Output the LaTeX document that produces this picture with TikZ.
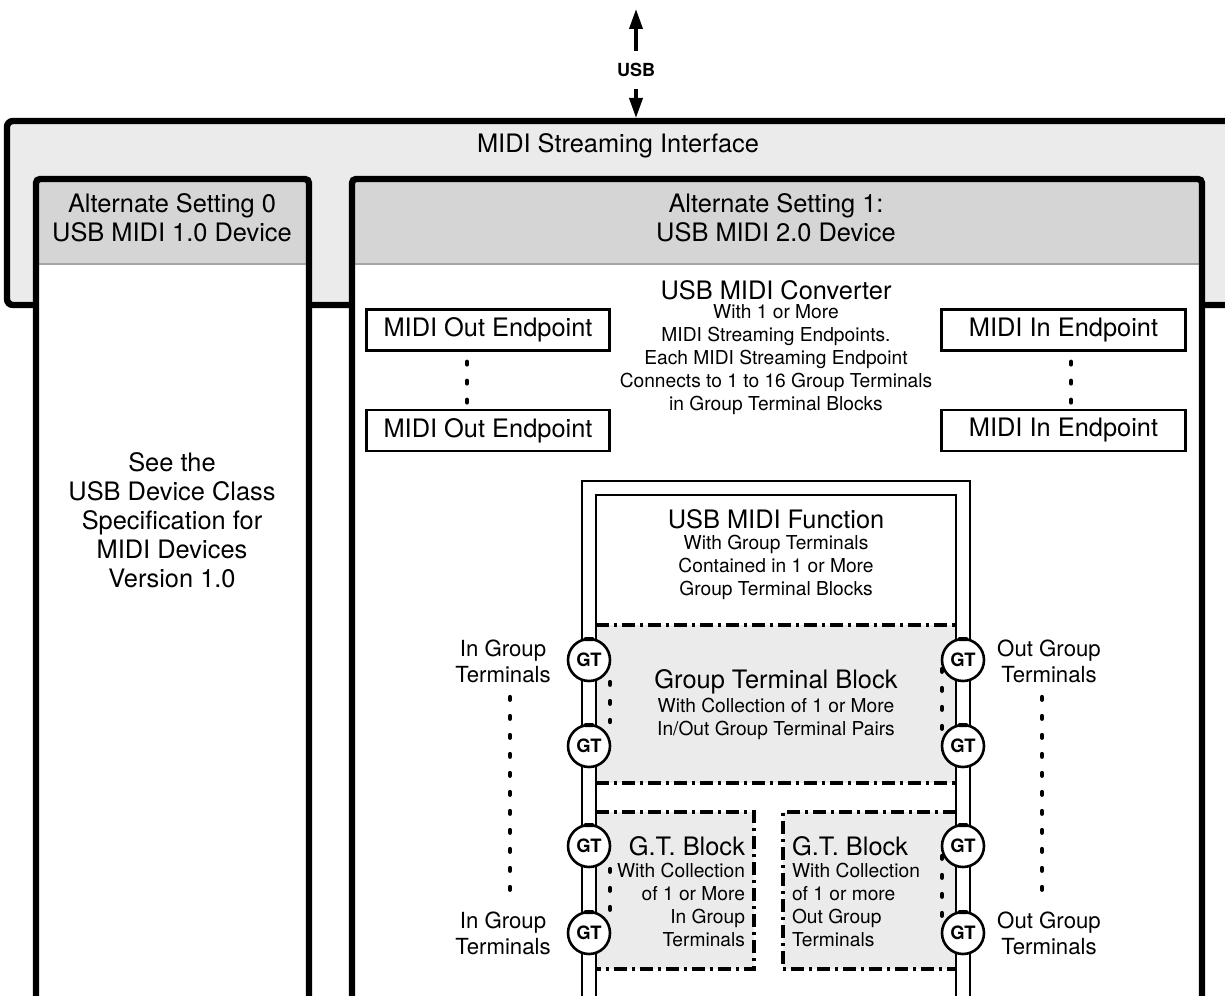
\documentclass[tikz,border=0pt]{standalone}
\usepackage{fontspec}
\setmainfont{TeX Gyre Heros}
\usetikzlibrary{arrows.meta}

\definecolor{ifacefill}{RGB}{235,235,235}
\definecolor{headfill}{RGB}{213,213,213}
\definecolor{headrule}{RGB}{165,165,165}
\definecolor{blockfill}{RGB}{235,235,235}

\newcommand\lgtxt{\fontsize{12.7}{14.5}\selectfont}
\newcommand\smtxt{\fontsize{9.6}{11.5}\selectfont}
\newcommand\lbltxt{\fontsize{11.1}{13}\selectfont}

\tikzset{
  txt/.style={inner sep=0pt, outer sep=0pt},
  heavy/.style={line width=3.2pt},
  panelrule/.style={draw=headrule, line width=1pt},
  frame/.style={line width=1.4pt},
  dashdot/.style={line width=1.6pt, dash pattern=on 6.5pt off 2.5pt on 1.5pt off 2.5pt},
  dots/.style={line width=2.1pt, line cap=round, dash pattern=on 1.4pt off 8.1pt},
  endpoint/.style={draw, line width=1.3pt, minimum width=121.75pt, minimum height=20.5pt,
                   inner sep=0pt, outer sep=0pt, font=\lgtxt},
  gt/.style={circle, draw, fill=white, line width=1.3pt, minimum size=21pt, inner sep=0pt,
             outer sep=0pt, font=\bfseries\fontsize{9.2}{10}\selectfont},
  usbarrow/.style={line width=1.8pt, -{Triangle[length=10pt,width=6.5pt]}}
}

\begin{document}
\begin{tikzpicture}[x=0.5pt,y=-0.5pt]
\useasboundingbox (0,0) rectangle (1225,995);

\begin{scope}
  \clip (0,0) rectangle (1225,995);
  % streaming interface frame
  \draw[heavy, fill=ifacefill, rounded corners=3pt] (7,121) rectangle (1290,305);
  % the two alternate setting panels
  \foreach \l/\r in {36/309, 352/1202}{
    \fill[white] (\l,179) rectangle (\r,1050);
    \fill[headfill] (\l,179) rectangle (\r,264);
    \draw[panelrule] (\l,264) -- (\r,264);
    \draw[heavy, rounded corners=2pt] (\l,1050) -- (\l,179) -- (\r,179) -- (\r,1050);
  }
  % group terminal blocks
  \fill[blockfill] (596,625) rectangle (956,783);
  \draw[dashdot] (596,625) -- (956,625);
  \draw[dashdot] (596,783) -- (956,783);
  \fill[blockfill] (596,812) rectangle (754,969);
  \draw[dashdot] (596,812) -- (754,812) -- (754,969) -- (596,969);
  \fill[blockfill] (783,812) rectangle (956,969);
  \draw[dashdot] (956,812) -- (783,812) -- (783,969) -- (956,969);
  % USB MIDI function double frame
  \draw[frame] (582,1050) -- (582,481) -- (970,481) -- (970,1050);
  \draw[frame] (596,1050) -- (596,495) -- (956,495) -- (956,1050);
\end{scope}

% USB connection
\node[txt, font=\bfseries\fontsize{9}{10}\selectfont] (usb) at (636,70) {USB};
\coordinate (usbout) at (636,9);
\coordinate (usbin) at (636,118);
\draw[usbarrow] ([yshift=6pt]usb.north) -- (usbout);
\draw[usbarrow] ([yshift=-6pt]usb.south) -- (usbin);

% headings
\node[txt, font=\lgtxt] (iface) at (618,146) {MIDI Streaming Interface};
\node[txt, font=\lgtxt, align=center] (alt0) at (172,217.5) {Alternate Setting 0\\USB MIDI 1.0 Device};
\node[txt, font=\lgtxt, align=center] (alt1) at (776,217.5) {Alternate Setting 1:\\USB MIDI 2.0 Device};
\node[txt, font=\lgtxt, align=center] (spec) at (172,520)
  {See the\\USB Device Class\\Specification for\\MIDI Devices\\Version 1.0};

% converter
\node[txt, font=\lgtxt] (conv) at (776,290) {USB MIDI Converter};
\node[txt, font=\smtxt, align=center] (convtxt) at (776,360)
  {With 1 or More\\MIDI Streaming Endpoints.\\Each MIDI Streaming Endpoint\\Connects to 1 to 16 Group Terminals\\in Group Terminal Blocks};

% endpoints
\node[endpoint] (out1) at (488,330) {MIDI Out Endpoint};
\node[endpoint] (out2) at (488,430.5) {MIDI Out Endpoint};
\node[endpoint] (in1) at (1063.5,330) {MIDI In Endpoint};
\node[endpoint] (in2) at (1063.5,430.5) {MIDI In Endpoint};
\draw[dots, shorten <=5.6pt, shorten >=3pt] ([xshift=-10.5pt]out1.south) -- ([xshift=-10.5pt]out2.north);
\draw[dots, shorten <=5.6pt, shorten >=3pt] ([xshift=3.75pt]in1.south) -- ([xshift=3.75pt]in2.north);

% function
\node[txt, font=\lgtxt] (func) at (776,519) {USB MIDI Function};
\node[txt, font=\smtxt, align=center] (functxt) at (776,567)
  {With Group Terminals\\Contained in 1 or More\\Group Terminal Blocks};

\node[txt, font=\lgtxt] (gtb) at (776,682) {Group Terminal Block};
\node[txt, font=\smtxt, align=center] (gtbtxt) at (776,718.5)
  {With Collection of 1 or More\\In/Out Group Terminal Pairs};
\node[txt, font=\lgtxt, anchor=east] (gtin) at (745,846) {G.T. Block};
\node[txt, font=\smtxt, align=right, anchor=east] (gtintxt) at (745,904.5)
  {With Collection\\of 1 or More\\In Group\\Terminals};
\node[txt, font=\lgtxt, anchor=west] (gtout) at (792,846) {G.T. Block};
\node[txt, font=\smtxt, align=left, anchor=west] (gtouttxt) at (792,904.5)
  {With Collection\\of 1 or more\\Out Group\\Terminals};

% group terminals
\node[gt] (gl1) at (589,660) {GT};
\node[gt] (gl2) at (589,746) {GT};
\node[gt] (gl3) at (589,846) {GT};
\node[gt] (gl4) at (589,933) {GT};
\node[gt] (gr1) at (963,660) {GT};
\node[gt] (gr2) at (963,746) {GT};
\node[gt] (gr3) at (963,846) {GT};
\node[gt] (gr4) at (963,933) {GT};
\foreach \g in {gl1,gl2,gl3,gl4,gr1,gr2,gr3,gr4}
  \fill[rounded corners=0.7pt] ([xshift=-2.6pt,yshift=1pt]\g.north) rectangle ([xshift=2.6pt,yshift=-1pt]\g.north);

\draw[dots] ([yshift=-11pt]gl1.east) -- ([yshift=12pt]gl2.east);
\draw[dots] ([yshift=-4.5pt]gr1.west) -- ([yshift=8.5pt]gr2.west);
\draw[dots] ([yshift=-11.5pt]gl3.east) -- ([yshift=11.5pt]gl4.east);
\draw[dots] ([yshift=-5pt]gr3.west) -- ([yshift=7.5pt]gr4.west);

% side labels
\node[txt, font=\lbltxt, align=center] (ina) at (503,661) {In Group\\Terminals};
\node[txt, font=\lbltxt, align=center] (inb) at (503,933) {In Group\\Terminals};
\node[txt, font=\lbltxt, align=center] (outa) at (1049,661) {Out Group\\Terminals};
\node[txt, font=\lbltxt, align=center] (outb) at (1049,933) {Out Group\\Terminals};
\draw[dots] ([xshift=3.5pt,yshift=-18pt]ina.center) -- ([xshift=3.5pt,yshift=20pt]inb.center);
\draw[dots] ([xshift=-3.5pt,yshift=-18pt]outa.center) -- ([xshift=-3.5pt,yshift=20pt]outb.center);
\end{tikzpicture}
\end{document}
